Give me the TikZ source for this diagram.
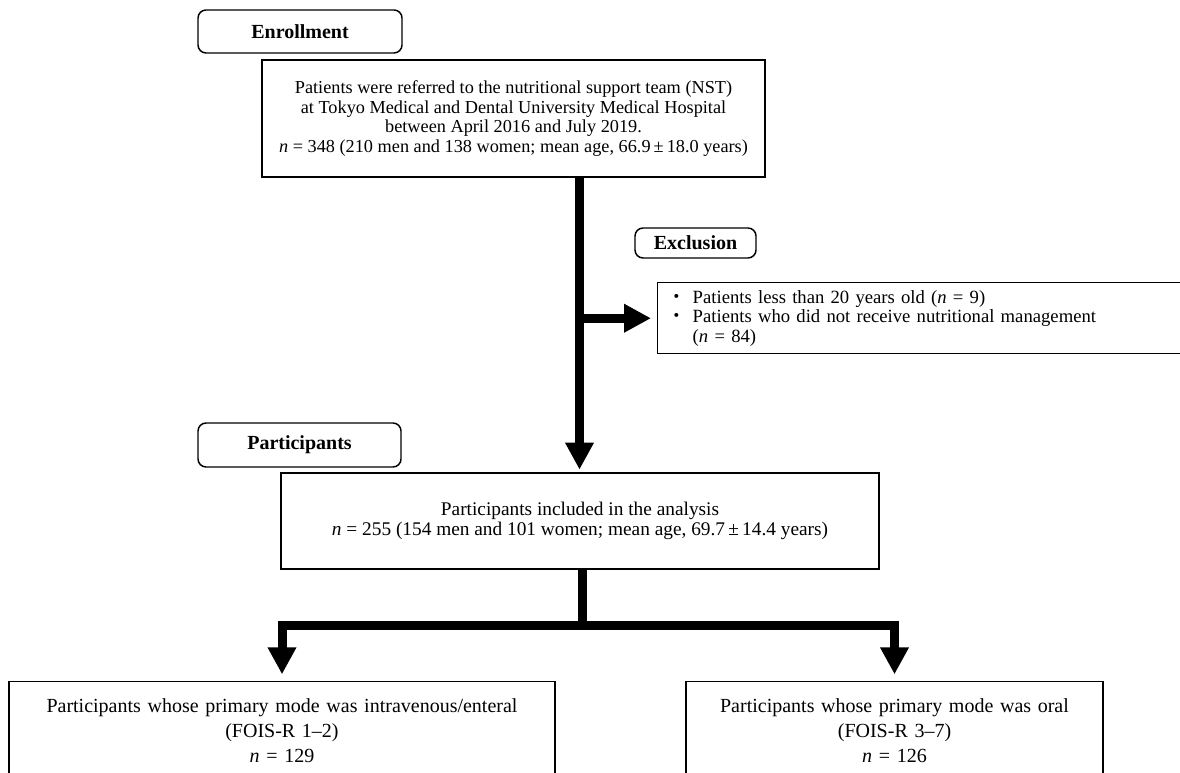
\documentclass[tikz,border=0pt]{standalone}
\usepackage{fontspec}
\setmainfont{Liberation Serif}
\newfontfamily\cjk{Noto Sans CJK JP}
\usetikzlibrary{arrows.meta}
\begin{document}
\begin{tikzpicture}[x=0.75pt,y=-0.75pt,
  lbl/.style={draw, line width=1.1pt, rounded corners=6pt, font=\fontsize{15}{17}\selectfont\bfseries, inner sep=0pt},
  box/.style={draw, line width=1.1pt, align=center, inner sep=0pt},
  fat/.style={line width=6.75pt, line join=miter},
  fatarr/.style={fat, -{Triangle[length=20.25pt,width=20.25pt]}}]
\useasboundingbox (0,0) rectangle (1180,773);
\clip (0,0) rectangle (1180,773);

\node[lbl, minimum width=153pt, minimum height=32.25pt] (enroll) at (300,31.5) {Enrollment};
\node[box, minimum width=377.25pt, minimum height=87.75pt, font=\fontsize{13.7}{14.6}\selectfont] (top) at (513.5,118.5)
  {Patients were referred to the nutritional support team (NST)\\
   at Tokyo Medical and Dental University Medical Hospital\\
   between April 2016 and July 2019.\\
   \textit{n} = 348 (210 men and 138 women; mean age, 66.9\,±\,18.0 years)};
\node[lbl, minimum width=90.75pt, minimum height=22.5pt] (exlbl) at (695.5,243) {Exclusion};
\node[box, anchor=north west, text width=400pt, inner xsep=2.25pt, minimum height=53.25pt, align=left,
      font=\fontsize{14}{14.5}\selectfont] (exlist) at (657,282)
  {\makebox[24pt][c]{\cjk ・}Patients less than 20 years old (\textit{n} = 9)\\
   \makebox[24pt][c]{\cjk ・}Patients who did not receive nutritional management\\
   \hspace*{24pt}(\textit{n} = 84)};
\node[lbl, minimum width=152.25pt, minimum height=33pt] (plbl) at (299.5,445) {Participants};
\node[box, minimum width=448.5pt, minimum height=72pt, font=\fontsize{14.5}{15}\selectfont] (pbox) at (580,521)
  {Participants included in the analysis\\
   \textit{n} = 255 (154 men and 101 women; mean age, 69.7\,±\,14.4 years)};
\node[box, anchor=north, text width=409.5pt, inner xsep=0pt, inner ysep=13pt, font=\fontsize{15}{18.5}\selectfont] (lbox) at (282,681)
  {Participants whose primary mode was intravenous/enteral\\
   (FOIS-R 1–2)\\
   \textit{n} = 129\rule[-20pt]{0pt}{20pt}};
\node[box, anchor=north, text width=312.75pt, inner xsep=0pt, inner ysep=13pt, font=\fontsize{15}{18.5}\selectfont] (rbox) at (894.5,681)
  {Participants whose primary mode was oral\\
   (FOIS-R 3–7)\\
   \textit{n} = 126\rule[-20pt]{0pt}{20pt}};

\coordinate (sx) at (579.5,0);
\draw[fatarr, shorten >=2pt] (top.south -| sx) -- (pbox.north -| sx);
\coordinate (b) at (sx |- exlist.west);
\draw[fatarr, shorten >=4.5pt] (b) -- (exlist.west);
\coordinate (j) at (582.5,625.5);
\draw[fat] (pbox.south -| j) -- (j);
\draw[fatarr, shorten >=5pt] (j) -| (lbox.north);
\draw[fatarr, shorten >=5pt] (j) -| (rbox.north);
\end{tikzpicture}
\end{document}
